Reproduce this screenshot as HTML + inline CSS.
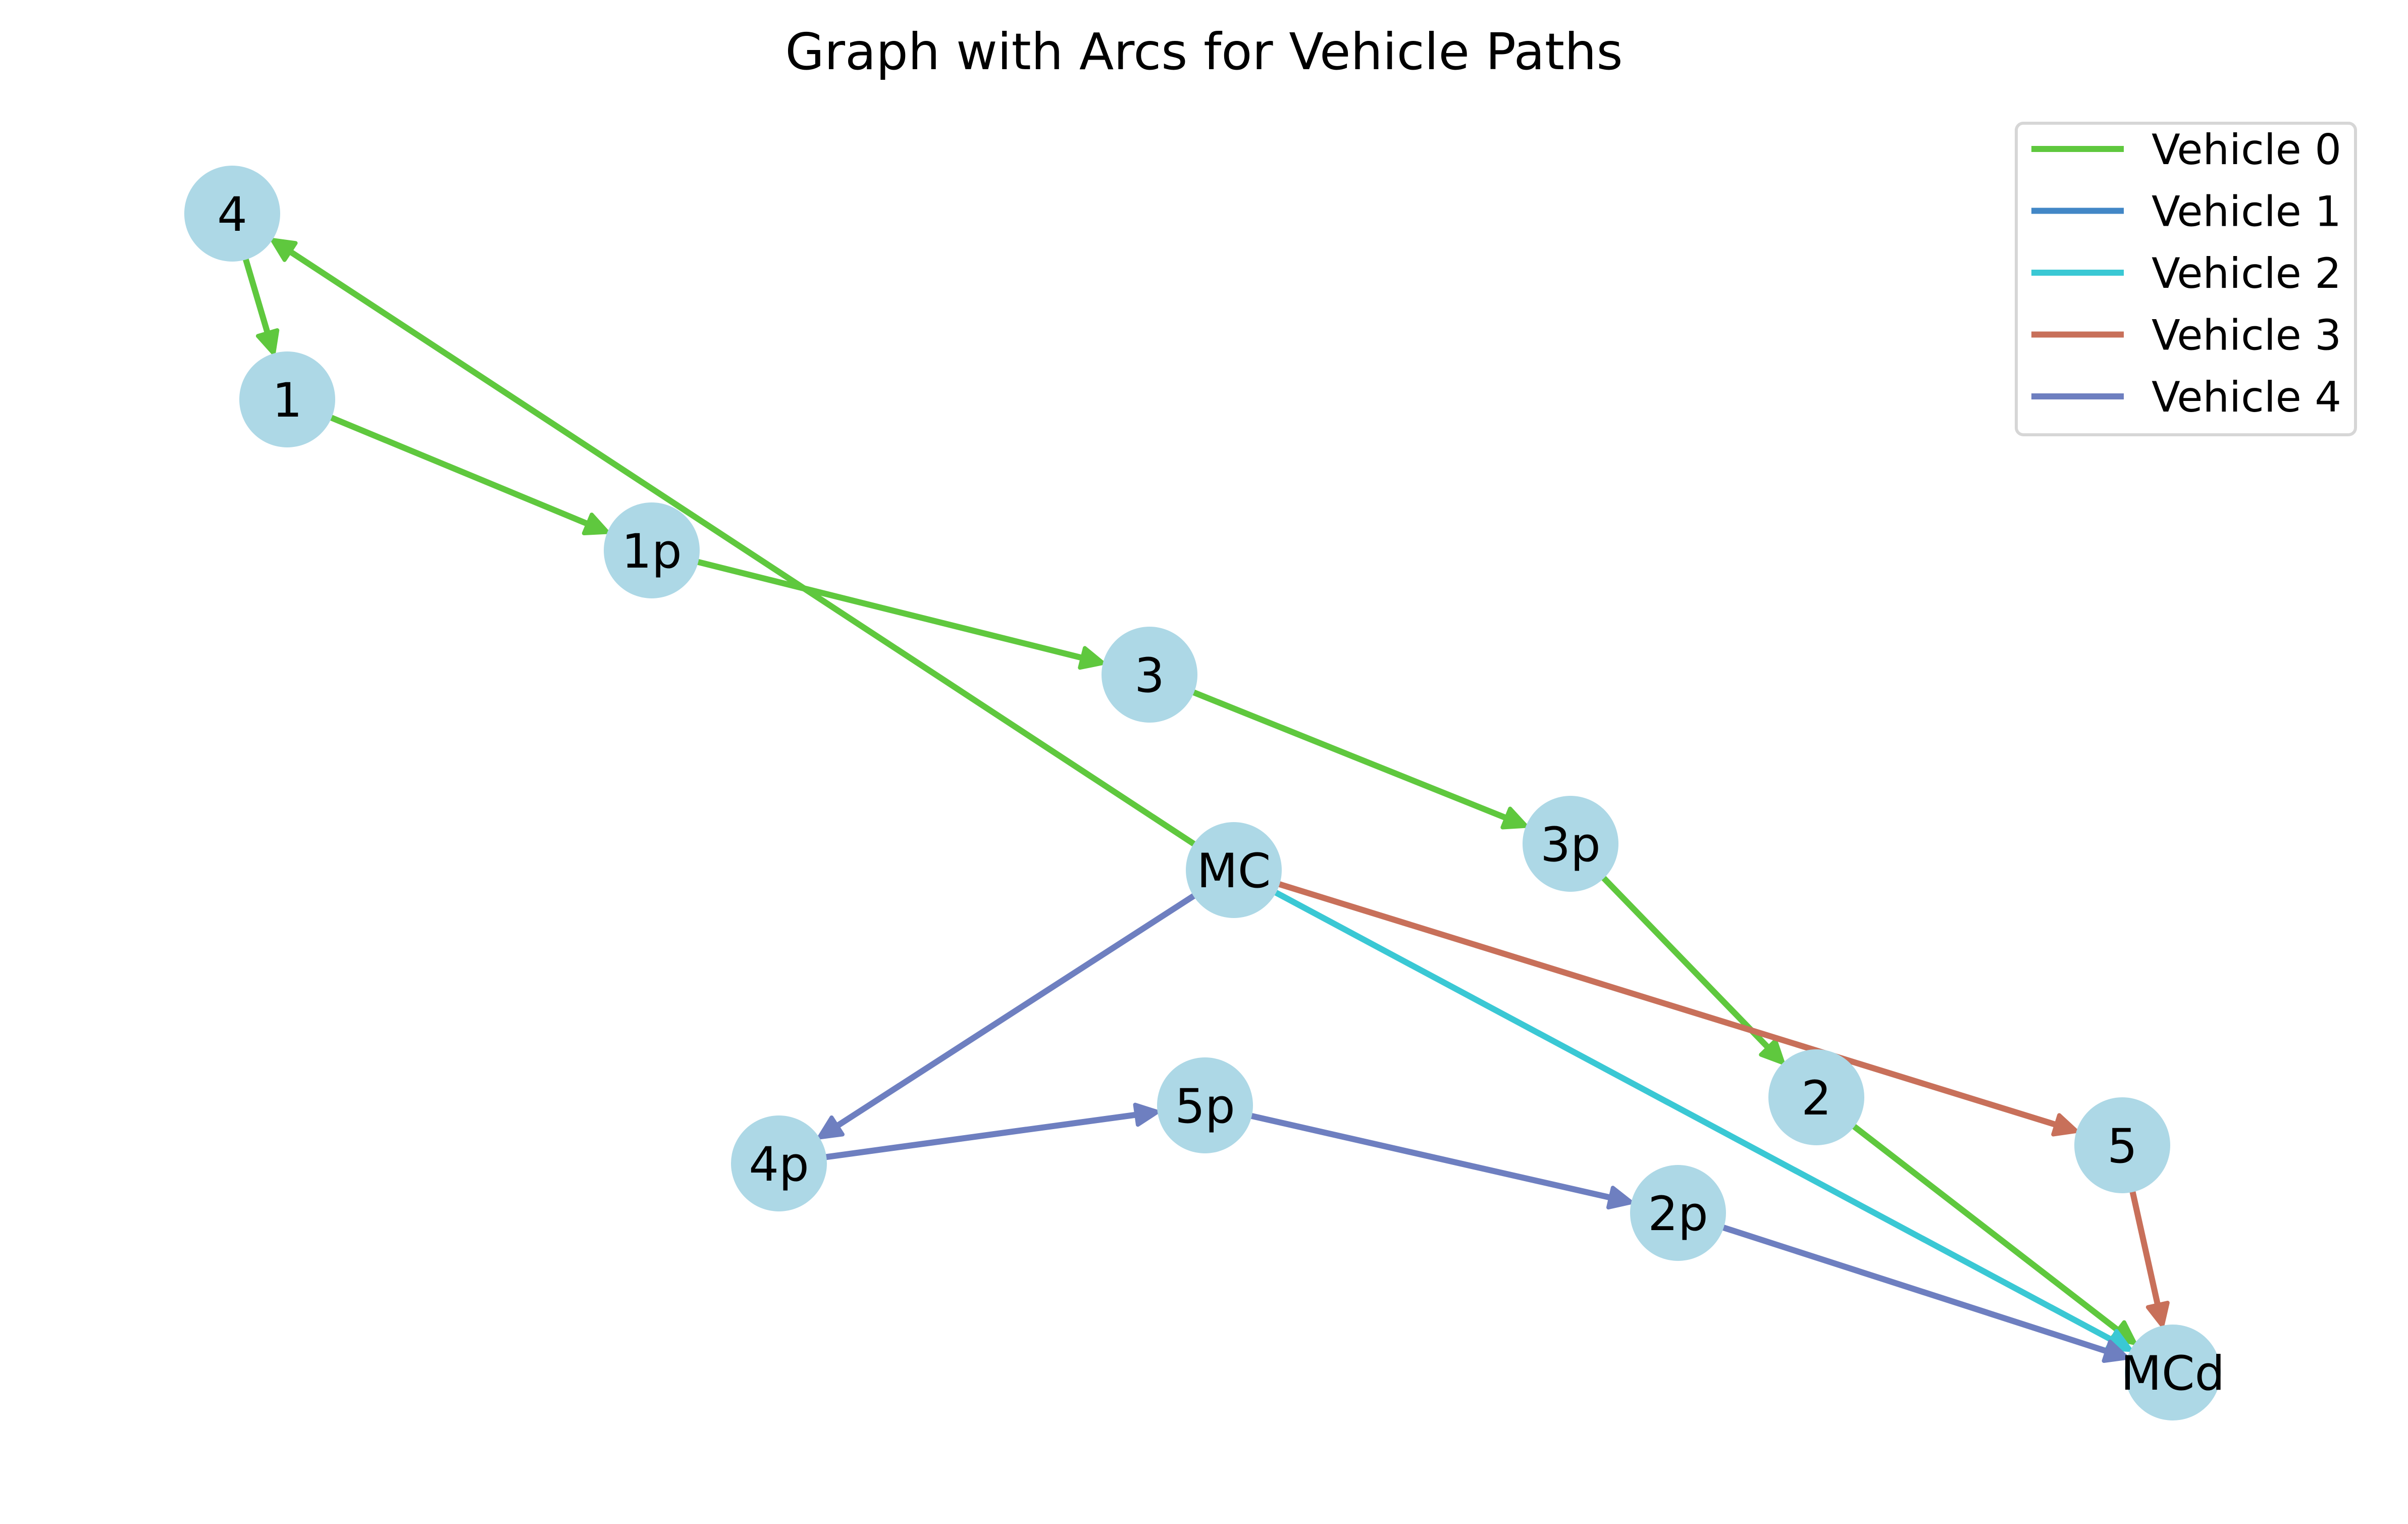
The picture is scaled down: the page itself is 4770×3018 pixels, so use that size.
<!DOCTYPE html>
<html><head><meta charset="utf-8"><style>
html,body{margin:0;padding:0;background:#fff;}
svg{display:block;font-family:"DejaVu Sans","Liberation Sans",sans-serif;}
</style></head><body>
<svg id="chart" width="4770" height="3018" viewBox="0 0 4770 3018">
<text x="2385" y="137" text-anchor="middle" font-size="100" fill="#000">Graph with Arcs for Vehicle Paths</text>
<g id="edges"></g>
<g id="nodes"></g>
<g id="legend">
<rect x="3994" y="244" width="672" height="617" rx="14" fill="#fff" stroke="#d6d6d6" stroke-width="6"/>
</g>
</svg>
<script>
const nodeNames = ["4","1","1p","3","3p","MC","2","5","MCd","4p","5p","2p"];
const nodeX = [460,569,1291,2277,3111,2444,3598,4204,4304,1543,2387,3324];
const nodeY = [423,791,1090,1336,1671,1723,2173,2268,2718,2304,2189,2402];
const vehicleNames = ["Vehicle 0","Vehicle 1","Vehicle 2","Vehicle 3","Vehicle 4"];
const vehicleColors = ["#5fc83e","#4287c6","#3ac8d4","#c8705a","#6e7fc0"];
const path0 = ["MC","4","1","1p","3","3p","2","MCd"];
const path1 = [];
const path2 = ["MC","MCd"];
const path3 = ["MC","5","MCd"];
const path4 = ["MC","4p","5p","2p","MCd"];
const paths = [path0,path1,path2,path3,path4];

const NS = "http://www.w3.org/2000/svg";
const R = 95;
const eg = document.getElementById("edges");
const ng = document.getElementById("nodes");
const lg = document.getElementById("legend");
function pos(n){const i=nodeNames.indexOf(n);return [nodeX[i],nodeY[i]];}

paths.forEach((p,v)=>{
  for(let k=0;k<p.length-1;k++){
    const [x1,y1]=pos(p[k]),[x2,y2]=pos(p[k+1]);
    const dx=x2-x1,dy=y2-y1,L=Math.hypot(dx,dy),ux=dx/L,uy=dy/L;
    const sx=x1+ux*R*0.9,sy=y1+uy*R*0.9,ex=x2-ux*R,ey=y2-uy*R;
    const AL=42,AW=20;
    const bx=ex-ux*AL,by=ey-uy*AL;
    const line=document.createElementNS(NS,"line");
    line.setAttribute("x1",sx);line.setAttribute("y1",sy);
    line.setAttribute("x2",bx+ux*5);line.setAttribute("y2",by+uy*5);
    line.setAttribute("stroke",vehicleColors[v]);line.setAttribute("stroke-width","12");
    
    
    eg.appendChild(line);
    const head=document.createElementNS(NS,"polygon");
    head.setAttribute("points",`${ex},${ey} ${bx-uy*AW},${by+ux*AW} ${bx+uy*AW},${by-ux*AW}`);
    head.setAttribute("fill",vehicleColors[v]);head.setAttribute("stroke",vehicleColors[v]);
    head.setAttribute("stroke-width","8");head.setAttribute("stroke-linejoin","round");
    
    
    eg.appendChild(head);
  }
});

nodeNames.forEach((n,i)=>{
  const c=document.createElementNS(NS,"circle");
  c.setAttribute("cx",nodeX[i]);c.setAttribute("cy",nodeY[i]);c.setAttribute("r",R);
  c.setAttribute("fill","#add8e6");
  
  
  ng.appendChild(c);
  const t=document.createElementNS(NS,"text");
  t.setAttribute("x",nodeX[i]);t.setAttribute("y",nodeY[i]+34);
  t.setAttribute("text-anchor","middle");t.setAttribute("font-size","94");
  t.textContent=n;
  
  
  ng.appendChild(t);
});

vehicleNames.forEach((name,i)=>{
  const y=295+i*122.5;
  const l=document.createElementNS(NS,"line");
  l.setAttribute("x1",4024);l.setAttribute("x2",4207);l.setAttribute("y1",y);l.setAttribute("y2",y);
  l.setAttribute("stroke",vehicleColors[i]);l.setAttribute("stroke-width","12");
  
  
  lg.appendChild(l);
  const t=document.createElementNS(NS,"text");
  t.setAttribute("x",4262);t.setAttribute("y",y+30);t.setAttribute("font-size","83");
  t.textContent=name;
  
  
  lg.appendChild(t);
});
</script>
</body></html>
